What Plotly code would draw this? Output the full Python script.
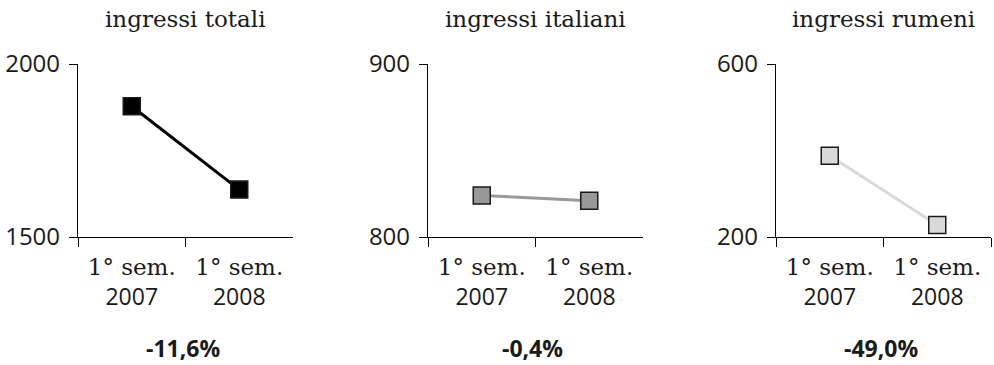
import plotly.graph_objects as go

# Periodi a confronto (categorie dell'asse x)
periodi = ["1° sem. 2007", "1° sem. 2008"]
riga_sem = ["1° sem.", "1° sem."]
riga_anno = ["2007", "2008"]

# Ingressi per semestre
totali = [1878, 1637]
italiani = [824, 821]
rumeni = [388, 228]

titoli = ["ingressi totali", "ingressi italiani", "ingressi rumeni"]
variazioni = ["-11,6%", "-0,4%", "-49,0%"]

scale_y = [[1500, 2000], [800, 900], [200, 600]]

serie = [totali, italiani, rumeni]
colori_linea = ["#000000", "#999999", "#d9d9d9"]
colori_marker = ["#000000", "#999999", "#d9d9d9"]

W, H = 994, 365
domini_x = [(78, 293), (428, 643), (776, 991)]
dominio_y = (64, 237)

SERIF = "DejaVu Serif"
SANS = "Open Sans"
TESTO = "#1a1a1a"

etichette_x = [
    f"<span style='font-family:{SERIF}'>{s}</span><br>{a}"
    for s, a in zip(riga_sem, riga_anno)
]

fig = go.Figure()
annotazioni = []

for i, (valori, col_l, col_m) in enumerate(zip(serie, colori_linea, colori_marker)):
    n = "" if i == 0 else str(i + 1)
    fig.add_trace(go.Scatter(
        x=periodi, y=valori,
        xaxis="x" + n, yaxis="y" + n,
        mode="lines+markers",
        line=dict(color=col_l, width=3),
        marker=dict(symbol="square", size=17, color=col_m,
                    line=dict(color="#1a1a1a", width=1.5)),
        showlegend=False, hoverinfo="x+y",
    ))
    x0, x1 = domini_x[i]
    dom_x = [x0 / W, x1 / W]
    dom_y = [1 - dominio_y[1] / H, 1 - dominio_y[0] / H]
    fig.layout["xaxis" + n] = dict(
        domain=dom_x, anchor="y" + n,
        type="category", categoryorder="array", categoryarray=periodi,
        range=[-0.5, 1.5],
        tickmode="array", tickvals=periodi, ticktext=etichette_x,
        tickson="boundaries", ticks="outside", ticklen=9, tickwidth=1.3,
        tickcolor="#000000", ticklabelstandoff=9,
        showline=True, linecolor="#000000", linewidth=1.3,
        showgrid=False, zeroline=False, automargin=False,
        tickfont=dict(family=SANS, size=23, color=TESTO),
        fixedrange=True,
    )
    fig.layout["yaxis" + n] = dict(
        domain=dom_y, anchor="x" + n,
        range=scale_y[i], tickmode="array", tickvals=scale_y[i],
        ticks="outside", ticklen=8, tickwidth=1.3, tickcolor="#000000",
        ticklabelstandoff=4,
        showline=True, linecolor="#000000", linewidth=1.3,
        showgrid=False, zeroline=False, automargin=False,
        tickfont=dict(family=SANS, size=24, color=TESTO),
        fixedrange=True,
    )
    centro = (x0 + x1) / 2 / W
    annotazioni.append(dict(
        x=centro, y=1 - 19 / H, xref="paper", yref="paper",
        text=titoli[i], showarrow=False,
        font=dict(family=SERIF, size=23, color=TESTO),
        xanchor="center", yanchor="middle",
    ))
    annotazioni.append(dict(
        x=centro - 3 / W, y=0, xref="paper", yref="paper",
        text=f"<b>{variazioni[i]}</b>", showarrow=False,
        font=dict(family=SANS, size=23, color=TESTO),
        xanchor="center", yanchor="bottom", borderpad=0,
    ))

fig.update_layout(
    width=W, height=H,
    margin=dict(l=0, r=0, t=0, b=0, autoexpand=False),
    paper_bgcolor="#ffffff", plot_bgcolor="#ffffff",
    annotations=annotazioni,
    font=dict(family=SANS, color=TESTO),
)

fig.write_html("out.html")
